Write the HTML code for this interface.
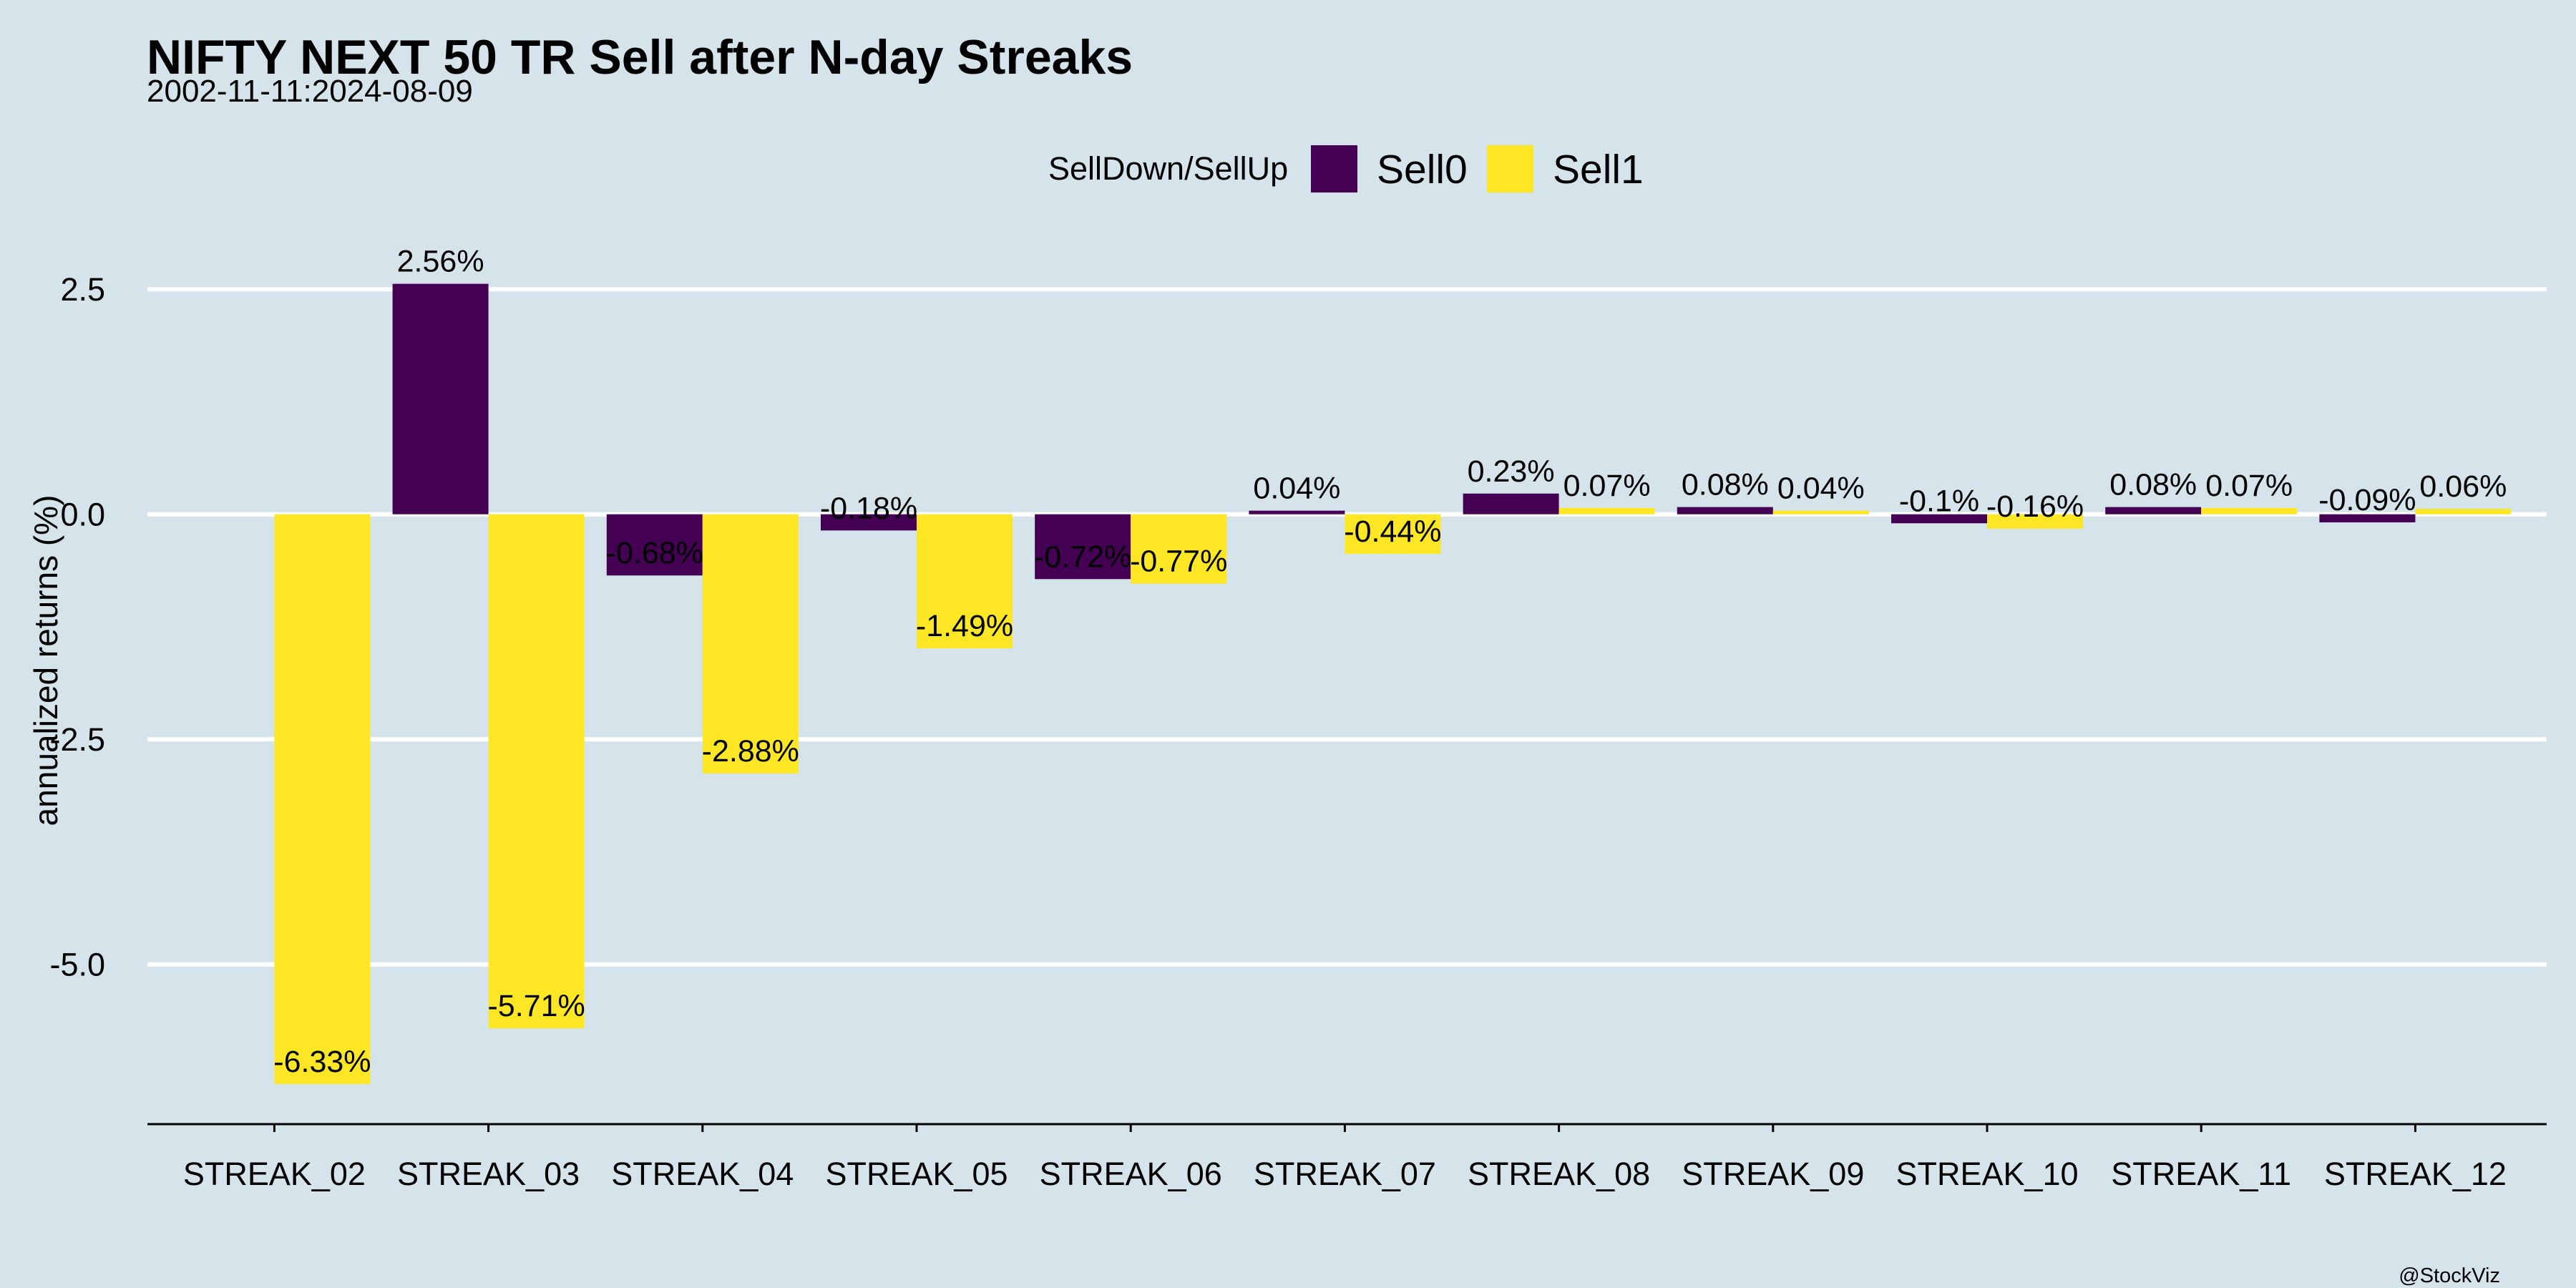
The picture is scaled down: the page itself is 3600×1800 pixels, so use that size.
<!DOCTYPE html>
<html><head><meta charset="utf-8"><style>
html,body{margin:0;padding:0;background:#d5e4eb;}
svg{display:block;font-family:"Liberation Sans",Arial,sans-serif;}
</style></head><body>
<svg id="chart" width="3600" height="1800" viewBox="0 0 3600 1800" xmlns="http://www.w3.org/2000/svg">
<rect width="3600" height="1800" fill="#d5e4eb"/>
<text x="205" y="103" font-size="68" font-weight="bold">NIFTY NEXT 50 TR Sell after N-day Streaks</text>
<text x="205" y="142" font-size="44">2002-11-11:2024-08-09</text>
<g>
<text x="1465" y="251" font-size="45">SellDown/SellUp</text>
<rect x="1832" y="203" width="65" height="66" fill="#440154"/>
<text x="1924" y="256" font-size="57">Sell0</text>
<rect x="2078" y="203" width="65" height="66" fill="#fde725"/>
<text x="2170" y="256" font-size="57">Sell1</text>
</g>
<text transform="translate(80,923) rotate(-90)" text-anchor="middle" font-size="46">annualized returns (%)</text>
<g id="grid"></g>
<g id="bars"></g>
<line x1="206" y1="1571" x2="3559" y2="1571" stroke="#000" stroke-width="3"/>
<g id="xaxis"></g>
<text x="3494" y="1792" text-anchor="end" font-size="29">@StockViz</text>
</svg>
<script>
const categories=["STREAK_02","STREAK_03","STREAK_04","STREAK_05","STREAK_06","STREAK_07","STREAK_08","STREAK_09","STREAK_10","STREAK_11","STREAK_12"];
const sell0=[null,2.56,-0.68,-0.18,-0.72,0.04,0.23,0.08,-0.1,0.08,-0.09];
const sell1=[-6.33,-5.71,-2.88,-1.49,-0.77,-0.44,0.07,0.04,-0.16,0.07,0.06];
const yTicks=[2.5,0,-2.5,-5];
const yTickLabels=["2.5","0.0","-2.5","-5.0"];
const NS="http://www.w3.org/2000/svg";
function y(v){return 718.7-v*125.8;}
function xc(i){return 383.4+i*299.2;}
function mk(tag,attrs,parent,txt){const e=document.createElementNS(NS,tag);for(const k in attrs)e.setAttribute(k,attrs[k]);if(txt!==undefined)e.textContent=txt;parent.appendChild(e);return e;}
const grid=document.getElementById('grid'),bars=document.getElementById('bars'),xa=document.getElementById('xaxis');
yTicks.forEach((t,i)=>{
 const l=mk('line',{x1:206,x2:3559,y1:y(t),y2:y(t),stroke:'#fff','stroke-width':6},grid);
 
 
 const tx=mk('text',{x:147,y:y(t)+16,'text-anchor':'end','font-size':45},grid,yTickLabels[i]);
 
 
});
function fmt(v){return (Math.round(v*100)/100)+'%';}
[[sell0,'#440154',-67,'sell0'],[sell1,'#fde725',67,'sell1']].forEach(([arr,col,off,nm])=>{
 arr.forEach((v,i)=>{
  if(v===null)return;
  const cx=xc(i)+off,y0=y(0),yv=y(v);
  const r=mk('rect',{x:cx-67,y:Math.min(y0,yv),width:134,height:Math.max(Math.abs(yv-y0),1),fill:col},bars);
  
  
  const t=mk('text',{x:cx,y:yv-32+15,'text-anchor':'middle','font-size':43},bars,fmt(v));
  
  
 });
});
categories.forEach((c,i)=>{
 const tk=mk('line',{x1:xc(i),x2:xc(i),y1:1571,y2:1582,stroke:'#000','stroke-width':3},xa);
 
 
 const t=mk('text',{x:xc(i),y:1656,'text-anchor':'middle','font-size':45},xa,c);
 
 
});
</script>
</body></html>
